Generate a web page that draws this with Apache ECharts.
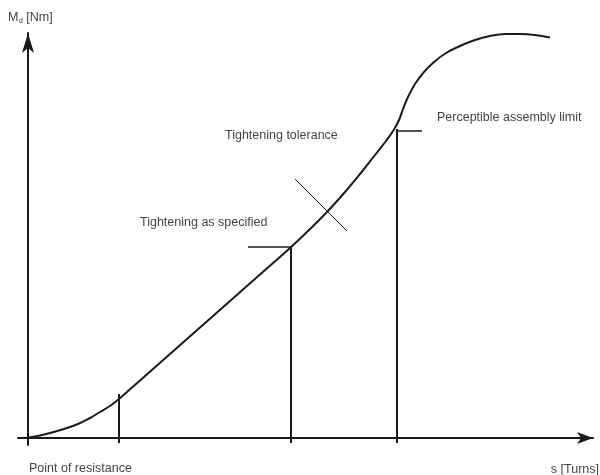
<!DOCTYPE html>
<html>
<head>
<meta charset="utf-8">
<script src="https://cdn.jsdelivr.net/npm/echarts@6/dist/echarts.min.js"></script>
<style>html,body{margin:0;padding:0;background:#fff}#c{width:600px;height:475px}</style>
</head>
<body>
<div id="c"></div>
<script>
// Tightening curve: s (turns, arbitrary units) vs Md (Nm, arbitrary units)
var curveS  = [1, 12, 22, 36, 50, 62, 72, 82, 91, 112, 142, 172, 202, 232, 262, 282, 299, 317, 332, 347, 358, 366, 371, 375, 380, 387, 396, 406, 418, 432, 447, 462, 477, 492, 507, 522];
var curveMd = [0.5, 2.5, 5, 9, 14, 20, 26, 32, 39, 57.5, 84, 110.5, 137, 163.5, 190, 209, 226, 246, 264, 283, 297, 308.5, 318, 329, 341, 354, 366, 376, 385, 392, 398, 402, 404, 404, 403, 400.5];

// Reference marks
var resistanceS = 91, resistanceTop = 44;
var specifiedS = 263, specifiedMd = 191, specifiedTickStart = 220;
var limitS = 369, limitMd = 309, limitTickEnd = 394;
var tolerance = [[267, 259], [319, 207]];
var belowAxis = -5;

var labels = {
  yName: 'M', ySub: 'd', yUnit: ' [Nm]',
  xName: 's [Turns]',
  resistance: 'Point of resistance',
  specified: 'Tightening as specified',
  tolerance: 'Tightening tolerance',
  limit: 'Perceptible assembly limit'
};

var chart = echarts.init(document.getElementById('c'));
var ink = '#1a1a1a';
var textColor = '#444444';
var font = '"Liberation Sans", Arial, Helvetica, sans-serif';

function seg(pts, w) {
  return {type: 'line', data: pts, showSymbol: false, symbol: 'none', clip: false, silent: true,
    lineStyle: {color: ink, width: w}, animation: false, z: 3};
}

var curve = curveS.map(function (s, i) { return [s, curveMd[i]]; });

var txtStyle = {fill: textColor, fontSize: 12.5, fontFamily: font};

chart.setOption({
  backgroundColor: '#fff',
  animation: false,
  grid: {left: 18, right: 7, top: 33, bottom: 30},
  xAxis: {type: 'value', min: -10, max: 565,
    axisLine: {onZero: true, lineStyle: {color: ink, width: 2}, symbol: ['none', 'arrow'], symbolSize: [9, 16]},
    axisTick: {show: false}, axisLabel: {show: false}, splitLine: {show: false}},
  yAxis: {type: 'value', min: -7, max: 405,
    axisLine: {onZero: true, lineStyle: {color: ink, width: 2}, symbol: ['none', 'arrow'], symbolSize: [9, 20]},
    axisTick: {show: false}, axisLabel: {show: false}, splitLine: {show: false}},
  series: [
    Object.assign(seg(curve, 2), {smooth: 0.4}),
    seg([[resistanceS, belowAxis], [resistanceS, resistanceTop]], 2),
    seg([[specifiedS, belowAxis], [specifiedS, specifiedMd]], 2),
    seg([[specifiedTickStart, specifiedMd], [specifiedS, specifiedMd]], 1.5),
    seg([[limitS, belowAxis], [limitS, limitMd]], 2),
    seg([[limitS, limitMd - 2], [limitTickEnd, limitMd - 2]], 1.5),
    seg(tolerance, 1)
  ],
  graphic: [
    {type: 'text', x: 8, y: 18, style: {text: '{a|' + labels.yName + '}{b|' + labels.ySub + '}{a|' + labels.yUnit + '}', verticalAlign: 'middle',
      rich: {a: {fill: textColor, fontSize: 12.5, fontFamily: font}, b: {fill: textColor, fontSize: 8, fontFamily: font, verticalAlign: 'bottom', padding: [6, 0, 0, 0]}}}},
    {type: 'text', x: 599, y: 470, style: Object.assign({text: labels.xName, align: 'right', verticalAlign: 'middle'}, txtStyle)},
    {type: 'text', x: 29, y: 469, style: Object.assign({text: labels.resistance, verticalAlign: 'middle'}, txtStyle)},
    {type: 'text', x: 140, y: 223, style: Object.assign({text: labels.specified, verticalAlign: 'middle'}, txtStyle)},
    {type: 'text', x: 225, y: 136, style: Object.assign({text: labels.tolerance, verticalAlign: 'middle'}, txtStyle)},
    {type: 'text', x: 437, y: 118, style: Object.assign({text: labels.limit, verticalAlign: 'middle'}, txtStyle)}
  ]
});
</script>
</body>
</html>
